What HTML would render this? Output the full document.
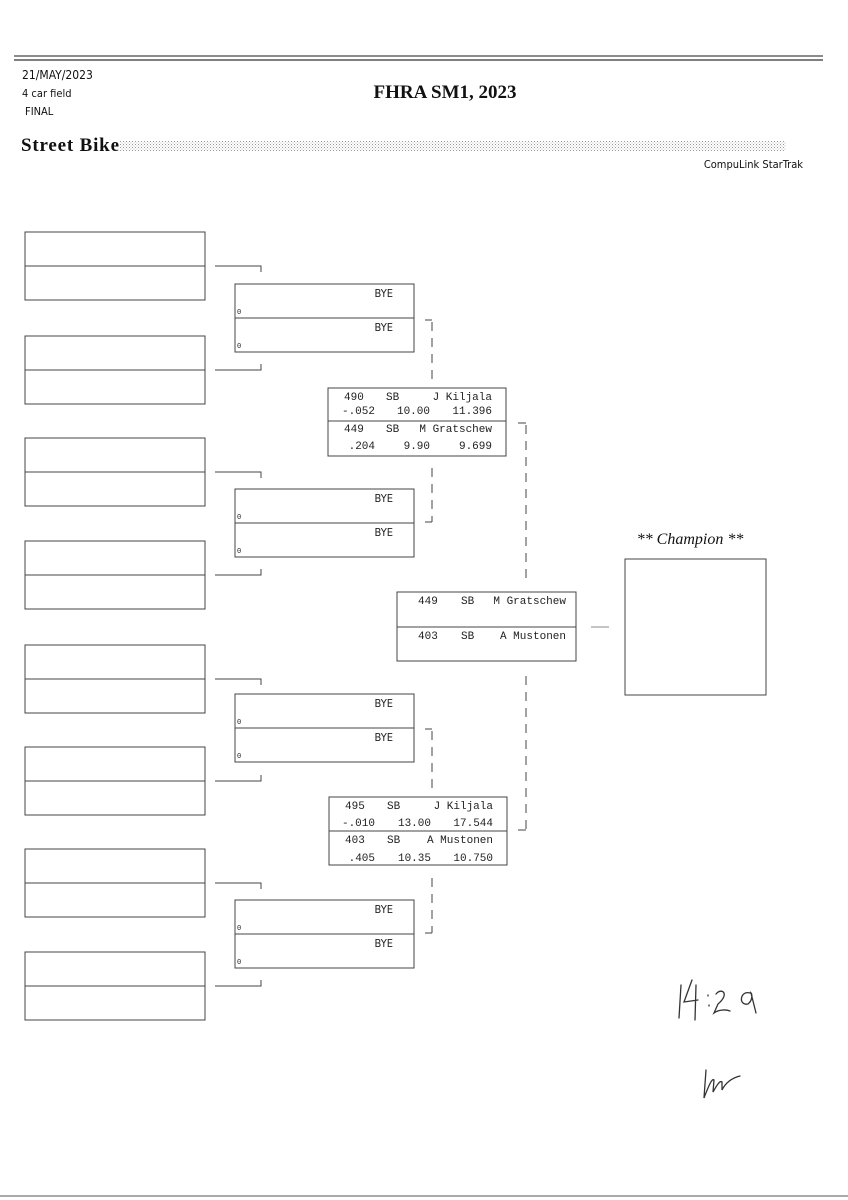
<!DOCTYPE html>
<html><head><meta charset="utf-8"><style>
html,body{margin:0;padding:0;background:#fff;}
svg{display:block;}
.m{font-family:"Liberation Mono",monospace;font-size:11px;fill:#222;}
</style></head><body>
<svg width="848" height="1200" viewBox="0 0 848 1200" xmlns="http://www.w3.org/2000/svg">
<defs>
<pattern id="dots" width="3" height="3" patternUnits="userSpaceOnUse"><rect width="1" height="1" fill="#999"/><rect x="1.5" y="1.5" width="1" height="1" fill="#bbb"/></pattern>
</defs>
<line x1="14" y1="56" x2="823" y2="56" stroke="#666" stroke-width="1.5"/>
<line x1="14" y1="60" x2="823" y2="60" stroke="#333" stroke-width="1.2"/>
<line x1="0" y1="1196" x2="848" y2="1196" stroke="#555" stroke-width="1"/>
<g font-family="'DejaVu Sans Condensed','Liberation Sans',sans-serif" font-size="12" fill="#111">
<text x="22" y="79">21/MAY/2023</text>
<text x="22" y="97" font-size="11">4 car field</text>
<text x="25" y="115" font-size="11">FINAL</text>
<text x="803" y="168" text-anchor="end" font-size="11">CompuLink StarTrak</text>
</g>
<text x="445" y="98" text-anchor="middle" font-family="'Liberation Serif',serif" font-weight="bold" font-size="19" fill="#111">FHRA SM1, 2023</text>
<text x="21" y="151" font-family="'Liberation Serif',serif" font-weight="bold" font-size="19" fill="#111" textLength="98">Street Bike</text>
<rect x="120" y="141" width="666" height="10" fill="url(#dots)"/>

<g fill="none" stroke="#444" stroke-width="1">
<rect x="25" y="232" width="180" height="68"/><line x1="25" y1="266" x2="205" y2="266"/>
<rect x="25" y="336" width="180" height="68"/><line x1="25" y1="370" x2="205" y2="370"/>
<rect x="25" y="438" width="180" height="68"/><line x1="25" y1="472" x2="205" y2="472"/>
<rect x="25" y="541" width="180" height="68"/><line x1="25" y1="575" x2="205" y2="575"/>
<rect x="25" y="645" width="180" height="68"/><line x1="25" y1="679" x2="205" y2="679"/>
<rect x="25" y="747" width="180" height="68"/><line x1="25" y1="781" x2="205" y2="781"/>
<rect x="25" y="849" width="180" height="68"/><line x1="25" y1="883" x2="205" y2="883"/>
<rect x="25" y="952" width="180" height="68"/><line x1="25" y1="986" x2="205" y2="986"/>
<path d="M215 266H261V272M215 370H261V364"/>
<path d="M215 472H261V478M215 575H261V569"/>
<path d="M215 679H261V685M215 781H261V775"/>
<path d="M215 883H261V889M215 986H261V980"/>
<rect x="235" y="284" width="179" height="68"/><line x1="235" y1="318" x2="414" y2="318"/>
<rect x="235" y="489" width="179" height="68"/><line x1="235" y1="523" x2="414" y2="523"/>
<rect x="235" y="694" width="179" height="68"/><line x1="235" y1="728" x2="414" y2="728"/>
<rect x="235" y="900" width="179" height="68"/><line x1="235" y1="934" x2="414" y2="934"/>
<path d="M425 320H432"/><path d="M425 522H432"/><path d="M425 729H432"/><path d="M425 933H432"/>
<g stroke-dasharray="9,7">
<path d="M432 322V380"/><path d="M432 468V522"/>
<path d="M432 731V788"/><path d="M432 878V933"/>
<path d="M526 425V582"/><path d="M526 676V830"/>
</g>
<rect x="328" y="388" width="178" height="68"/><line x1="328" y1="421" x2="506" y2="421"/>
<rect x="329" y="797" width="178" height="68"/><line x1="329" y1="831" x2="507" y2="831"/>
<path d="M518 423H526"/><path d="M518 830H526"/>
<rect x="397" y="592" width="179" height="69"/><line x1="397" y1="627" x2="576" y2="627"/>
<path d="M591 627H609" stroke="#888"/>
<rect x="625" y="559" width="141" height="136"/>
</g>

<g class="m">
<g font-family="'DejaVu Sans Condensed','Liberation Sans',sans-serif" font-size="11">
<text x="393" y="297" text-anchor="end">BYE</text><text x="393" y="331" text-anchor="end">BYE</text>
<text x="393" y="502" text-anchor="end">BYE</text><text x="393" y="536" text-anchor="end">BYE</text>
<text x="393" y="707" text-anchor="end">BYE</text><text x="393" y="741" text-anchor="end">BYE</text>
<text x="393" y="913" text-anchor="end">BYE</text><text x="393" y="947" text-anchor="end">BYE</text>
</g>
<g font-size="7">
<text x="237" y="314">0</text><text x="237" y="348">0</text>
<text x="237" y="519">0</text><text x="237" y="553">0</text>
<text x="237" y="724">0</text><text x="237" y="758">0</text>
<text x="237" y="930">0</text><text x="237" y="964">0</text>
</g>
<text x="344" y="400">490</text><text x="386" y="400">SB</text><text x="492" y="400" text-anchor="end">J Kiljala</text>
<text x="375" y="414" text-anchor="end">-.052</text><text x="430" y="414" text-anchor="end">10.00</text><text x="492" y="414" text-anchor="end">11.396</text>
<text x="344" y="432">449</text><text x="386" y="432">SB</text><text x="492" y="432" text-anchor="end">M Gratschew</text>
<text x="375" y="449" text-anchor="end">.204</text><text x="430" y="449" text-anchor="end">9.90</text><text x="492" y="449" text-anchor="end">9.699</text>

<text x="345" y="809">495</text><text x="387" y="809">SB</text><text x="493" y="809" text-anchor="end">J Kiljala</text>
<text x="375" y="826" text-anchor="end">-.010</text><text x="431" y="826" text-anchor="end">13.00</text><text x="493" y="826" text-anchor="end">17.544</text>
<text x="345" y="843">403</text><text x="387" y="843">SB</text><text x="493" y="843" text-anchor="end">A Mustonen</text>
<text x="375" y="861" text-anchor="end">.405</text><text x="431" y="861" text-anchor="end">10.35</text><text x="493" y="861" text-anchor="end">10.750</text>

<text x="418" y="604">449</text><text x="461" y="604">SB</text><text x="566" y="604" text-anchor="end">M Gratschew</text>
<text x="418" y="639">403</text><text x="461" y="639">SB</text><text x="566" y="639" text-anchor="end">A Mustonen</text>
</g>
<text x="690" y="544" text-anchor="middle" font-family="'Liberation Serif',serif" font-style="italic" font-size="16" fill="#111">** Champion **</text>

<g fill="none" stroke="#333" stroke-width="1.3" stroke-linecap="round">
<path d="M681 985L679 1018"/>
<path d="M692 980L684 1002L698 1000M696 985L695 1020"/>
<path d="M708 995v1M709 1005v1"/>
<path d="M716 994C722 987 730 994 718 1004L714 1013C718 1010 725 1009 730 1011"/>
<path d="M750 993C740 990 738 1006 748 1004C753 1000 752 994 751 993L756 1013"/>
<path d="M706 1070L704 1098C709 1085 712 1078 714 1080L713 1092C717 1085 720 1080 722 1082L722 1090C726 1082 732 1078 740 1076"/>
</g>
</svg>
</body></html>
